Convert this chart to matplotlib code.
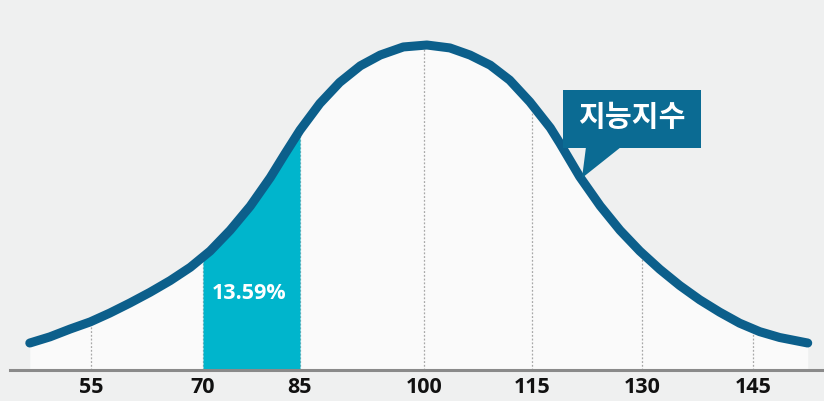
import numpy as np
import matplotlib
matplotlib.use('Agg')
import matplotlib.pyplot as plt
from matplotlib.patches import Polygon, Rectangle

plt.rcParams['font.family'] = ['Noto Sans CJK KR', 'DejaVu Sans']

# IQ 정규분포 곡선 (그림에서 읽은 값, 높이는 최고점 = 100)
iq = [46.8, 49.5, 52.2, 54.9, 57.5, 60.2, 62.9, 65.6, 68.3, 71.1, 74.2, 77.3,
      80.4, 82.7, 85.0, 87.4, 89.8, 92.3, 94.7, 97.5, 100.4, 103.6, 106.4,
      109.2, 111.9, 114.7, 117.5, 118.8, 121.5, 124.3, 127.0, 129.7, 132.4,
      135.1, 137.8, 140.5, 143.2, 145.9, 148.6, 152.4]
height = [8.3, 10.2, 12.6, 14.8, 17.5, 20.6, 23.9, 27.5, 31.6, 36.6, 43.0, 50.4,
          59.2, 66.6, 73.8, 82.0, 88.5, 93.6, 96.9, 99.4, 100.0, 99.1, 96.9,
          93.8, 89.2, 82.5, 74.5, 69.8, 59.5, 50.5, 43.0, 36.6, 31.0,
          26.0, 21.6, 17.8, 14.4, 11.8, 10.0, 8.3]
ticks = [55, 70, 85, 100, 115, 130, 145]
band = (70, 85)
band_label = '13.59%'
title = '지능지수'

bg = '#eff0f0'
curve_col = '#0c5f8b'
fill_col = '#00b5cc'
box_col = '#0b6b93'

# 원본 그림은 눈금 간격이 고르지 않아서 구간별 선형 척도를 씀
scale_iq = np.array([42.81, 55, 70, 85, 100, 115, 130, 145, 154.6])
scale_px = np.array([0, 91, 203, 300, 424, 532, 642, 753, 824], dtype=float)


def fwd(x):
    return np.interp(x, scale_iq, scale_px)


def inv(p):
    return np.interp(p, scale_px, scale_iq)


fig = plt.figure(figsize=(8.24, 4.01), dpi=100, facecolor=bg)
ax = fig.add_axes([0, 0, 1, 1])
ax.set_facecolor(bg)
ax.set_xscale('function', functions=(fwd, inv))
ax.set_xlim(scale_iq[0], scale_iq[-1])
ax.set_ylim(-9.54, 113.85)

# 곡선 안쪽은 밝게
ax.fill_between(iq, 0, height, color='#fafafa', lw=0, zorder=1)

# 눈금 점선 (곡선 아래만)
for t in ticks:
    ax.vlines(t, 0, np.interp(t, iq, height), colors='#a8a8a8',
              linestyles=(0, (1.5, 1.5)), lw=0.9, zorder=2)

# 70~85 구간
bx = np.linspace(band[0], band[1], 40)
ax.fill_between(bx, 0, np.interp(bx, iq, height), color=fill_col, lw=0, zorder=3)
ax.text(77.2, 23.4, band_label, color='white', fontsize=15.5,
        fontweight='bold', family=['Open Sans', 'DejaVu Sans'],
        ha='center', va='center', zorder=5)

ax.plot(iq, height, color=curve_col, lw=6.5, solid_capstyle='round',
        solid_joinstyle='round', zorder=4)

# x축
for s in ['top', 'right', 'left']:
    ax.spines[s].set_visible(False)
ax.spines['bottom'].set_position(('data', 0))
ax.spines['bottom'].set_color('#8a8a8a')
ax.spines['bottom'].set_linewidth(2.2)
ax.spines['bottom'].set_bounds(44.2, 154.6)
ax.spines['bottom'].set_zorder(6)
ax.set_yticks([])
ax.set_xticks(ticks)
ax.set_xticklabels([str(t) for t in ticks], fontweight='bold', fontsize=15.5,
                   family=['Open Sans', 'DejaVu Sans'])
ax.tick_params(axis='x', length=0, pad=5, colors='#111111')
ax.minorticks_off()

# 말풍선
tr = ax.transAxes
ax.add_patch(Rectangle((563 / 824, 1 - 148 / 401), 138 / 824, 58 / 401,
                       transform=tr, color=box_col, lw=0, zorder=7))
ax.add_patch(Polygon([(586 / 824, 1 - 147 / 401), (621 / 824, 1 - 147 / 401),
                      (582 / 824, 1 - 178 / 401)],
                     closed=True, transform=tr, color=box_col, lw=0, zorder=7))
ax.text(632 / 824, 1 - 117 / 401, title, transform=tr, color='white',
        fontsize=21, fontweight='bold', ha='center', va='center', zorder=8)

fig.savefig('out.png', dpi=100, facecolor=bg)
